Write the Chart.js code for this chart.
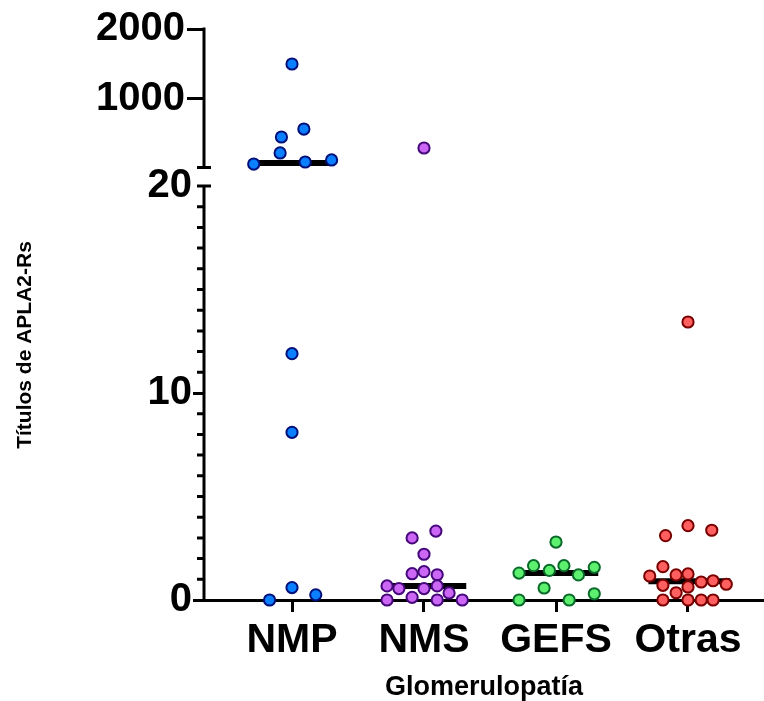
<!DOCTYPE html>
<html>
<head>
<meta charset="utf-8">
<title>Títulos de APLA2-Rs por glomerulopatía</title>
<script src="https://cdn.jsdelivr.net/npm/chart.js@4.4.1/dist/chart.umd.min.js"></script>
<style>
  html, body { margin: 0; padding: 0; background: #fff; }
  #chart { display: block; }
</style>
</head>
<body>
<canvas id="chart" width="764" height="701"></canvas>
<script>
const categories = ["NMP", "NMS", "GEFS", "Otras"];

// titre of each patient and the sideways spread of its dot (in category widths)
const nmpValues = [1500, 571, 457, 229, 129, 100, 71, 11.9, 8.1, 0.6, 0.25, 0];
const nmpSpread = [0, 0.09, -0.08, -0.09, 0.3, 0.1, -0.29, 0, 0, 0, 0.18, -0.17];

const nmsValues = [300, 3.33, 3.0, 2.21, 1.37, 1.27, 1.22, 0.68, 0.55, 0.55, 0.68, 0.34, 0, 0.13, 0, 0];
const nmsSpread = [0, 0.09, -0.09, 0, 0, -0.09, 0.1, -0.28, -0.19, 0, 0.1, 0.19, -0.28, -0.09, 0.1, 0.29];

const gefsValues = [2.8, 1.66, 1.66, 1.43, 1.3, 1.58, 1.21, 0.58, 0, 0, 0.3];
const gefsSpread = [0, -0.17, 0.06, -0.05, -0.28, 0.29, 0.17, -0.09, -0.28, 0.1, 0.29];

const otrasValues = [13.43, 3.59, 3.37, 3.11, 1.61, 1.16, 1.21, 1.26, 0.87, 0.93, 0.76, 0.71, 0.63, 0.35, 0, 0, 0, 0];
const otrasSpread = [0, 0, 0.18, -0.17, -0.19, -0.29, -0.09, 0, 0.1, 0.19, 0.29, -0.19, 0, -0.09, -0.19, 0, 0.1, 0.19];

const lowTicks = [0, 10, 20];
const highTicks = [1000, 2000];

const fillColors = ["#0a80ff", "#cc66f5", "#5cf06e", "#ff5f5f"];
const edgeColors = ["#00107a", "#45087a", "#0a6a2a", "#7a0000"];

const FONT = "'Liberation Sans', Arial, sans-serif";
const BREAK = 20;

function median(values) {
  const s = [...values].sort((a, b) => a - b);
  const mid = Math.floor(s.length / 2);
  return s.length % 2 ? s[mid] : (s[mid - 1] + s[mid]) / 2;
}

const groups = [
  { values: nmpValues, spread: nmpSpread },
  { values: nmsValues, spread: nmsSpread },
  { values: gefsValues, spread: gefsSpread },
  { values: otrasValues, spread: otrasSpread },
];

const datasets = [];
groups.forEach((g, i) => {
  const center = i + 1;
  const points = g.values.map((v, k) => ({ x: center + g.spread[k], y: v }));
  const dotStyle = {
    backgroundColor: fillColors[i],
    borderColor: edgeColors[i],
    borderWidth: 2,
    pointRadius: 5.6,
    pointHoverRadius: 5.6,
    clip: false,
    order: 0,
  };
  datasets.push({ ...dotStyle, label: categories[i], yAxisID: "yLow", data: points.filter((p) => p.y <= BREAK) });
  datasets.push({ ...dotStyle, label: categories[i], yAxisID: "yHigh", data: points.filter((p) => p.y > BREAK) });

  const m = median(g.values);
  datasets.push({
    label: categories[i] + " mediana",
    yAxisID: m > BREAK ? "yHigh" : "yLow",
    data: [{ x: center - 0.3, y: m }, { x: center + 0.32, y: m }],
    showLine: true,
    borderColor: "#000",
    borderWidth: 6,
    borderCapStyle: "butt",
    pointRadius: 0,
    pointHoverRadius: 0,
    clip: false,
    order: 1,
  });
});

// axis line in two pieces with caps at the break, plus the minor ticks
const brokenAxis = {
  id: "brokenAxis",
  beforeDatasetsDraw(chart) {
    const { ctx, chartArea } = chart;
    const yHigh = chart.scales.yHigh;
    const yLow = chart.scales.yLow;
    const x = chartArea.left;
    ctx.save();
    ctx.strokeStyle = "#000";
    ctx.lineWidth = 3;
    ctx.beginPath();
    ctx.moveTo(x, yHigh.getPixelForValue(BREAK));
    ctx.lineTo(x, yHigh.getPixelForValue(2000) - 1.5);
    ctx.moveTo(x, yLow.getPixelForValue(0) + 1.5);
    ctx.lineTo(x, yLow.getPixelForValue(BREAK));
    [yHigh.getPixelForValue(BREAK), yLow.getPixelForValue(BREAK)].forEach((y) => {
      ctx.moveTo(x - 7, y);
      ctx.lineTo(x + 7, y);
    });
    for (let v = 1; v < BREAK; v++) {
      if (v === 10) continue;
      const y = yLow.getPixelForValue(v);
      ctx.moveTo(x - 7, y);
      ctx.lineTo(x, y);
    }
    ctx.stroke();
    ctx.restore();
  },
};

const tickFont = { family: FONT, size: 40, weight: "bold" };
const AXIS_WIDTH = 165.8;

new Chart(document.getElementById("chart"), {
  type: "scatter",
  data: { datasets },
  options: {
    responsive: false,
    animation: false,
    events: [],
    layout: { autoPadding: false, padding: { top: 29, bottom: 40, left: 0, right: 0 } },
    plugins: {
      legend: { display: false },
      tooltip: { enabled: false },
      title: {
        display: true,
        position: "left",
        text: "Títulos de APLA2-Rs",
        color: "#000",
        font: { family: FONT, size: 21, weight: "bold" },
        padding: { top: 13, bottom: 0 },
      },
    },
    scales: {
      x: {
        type: "linear",
        min: 1 - 88 / 132,
        max: 4 + 76 / 132,
        afterBuildTicks: (scale) => {
          scale.ticks = categories.map((c, i) => ({ value: i + 1 }));
        },
        afterFit: (scale) => {
          scale.height = 61;
          scale.paddingLeft = 0;
          scale.paddingRight = 0;
        },
        ticks: {
          color: "#000",
          font: { family: FONT, size: 41, weight: "bold" },
          padding: 4,
          autoSkip: false,
          maxRotation: 0,
          callback: (v) => categories[Math.round(v) - 1],
        },
        grid: { drawOnChartArea: false, tickLength: 12, tickWidth: 3, tickColor: "#000" },
        border: { color: "#000", width: 3 },
        title: {
          display: true,
          text: "Glomerulopatía",
          color: "#000",
          font: { family: FONT, size: 27, weight: "bold" },
          padding: { top: 0, bottom: -43 },
        },
      },
      yHigh: {
        type: "linear",
        position: "left",
        stack: "titres",
        stackWeight: 148,
        weight: 2,
        min: -114.3,
        max: 2000,
        afterBuildTicks: (scale) => {
          scale.ticks = highTicks.map((v) => ({ value: v }));
        },
        afterFit: (scale) => { scale.width = AXIS_WIDTH; },
        ticks: { color: "#000", font: tickFont, padding: 2, callback: (v) => String(v) },
        grid: { drawOnChartArea: false, tickLength: 17, tickWidth: 3, tickColor: "#000" },
        border: { display: false },
      },
      yLow: {
        type: "linear",
        position: "left",
        stack: "titres",
        stackWeight: 423,
        weight: 1,
        min: 0,
        max: 20.435,
        afterBuildTicks: (scale) => {
          scale.ticks = lowTicks.map((v) => ({ value: v }));
        },
        afterFit: (scale) => { scale.width = AXIS_WIDTH; },
        ticks: { color: "#000", font: tickFont, padding: 1, callback: (v) => String(v) },
        grid: {
          drawOnChartArea: false,
          tickLength: 11,
          tickWidth: 3,
          tickColor: (ctx) => (ctx.tick && ctx.tick.value === BREAK ? "rgba(0,0,0,0)" : "#000"),
        },
        border: { display: false },
      },
    },
  },
  plugins: [brokenAxis],
});
</script>
</body>
</html>
